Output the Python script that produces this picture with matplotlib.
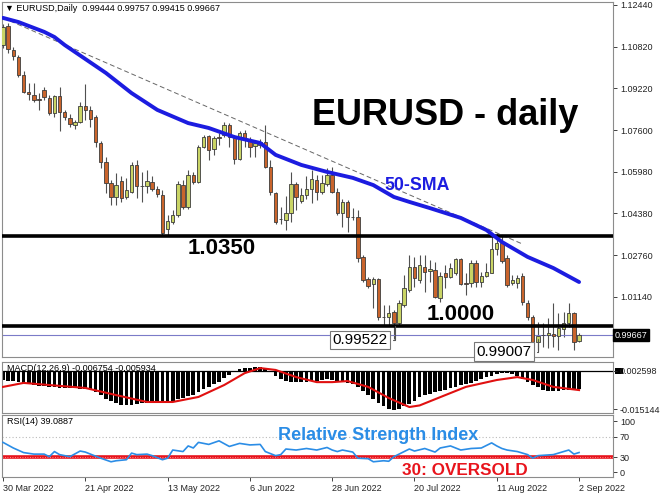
# EURUSD 日线图：K线 + 50-SMA + MACD + RSI
import numpy as np
import matplotlib
matplotlib.use('Agg')
from matplotlib import pyplot as plt
from matplotlib.patches import Rectangle

plt.rcParams['font.family'] = ['Liberation Sans', 'DejaVu Sans']

# 日线 OHLC, 30 Mar 2022 - 2 Sep 2022
opens = [1.1089, 1.1163, 1.1070, 1.1043, 1.0973, 1.0907, 1.0896, 1.0880, 1.0915, 1.0884,
         1.0826, 1.0892, 1.0830, 1.0807, 1.0780, 1.0791, 1.0853, 1.0838, 1.0811, 1.0710,
         1.0637, 1.0555, 1.0501, 1.0563, 1.0501, 1.0520, 1.0625, 1.0544, 1.0544, 1.0559,
         1.0532, 1.0509, 1.0377, 1.0404, 1.0431, 1.0547, 1.0462, 1.0586, 1.0559, 1.0695,
         1.0737, 1.0687, 1.0733, 1.0741, 1.0780, 1.0729, 1.0648, 1.0749, 1.0718, 1.0698,
         1.0702, 1.0714, 1.0617, 1.0517, 1.0416, 1.0412, 1.0439, 1.0551, 1.0486, 1.0509,
         1.0532, 1.0567, 1.0520, 1.0551, 1.0586, 1.0520, 1.0439, 1.0482, 1.0424, 1.0424,
         1.0269, 1.0184, 1.0164, 1.0184, 1.0037, 1.0037, 1.0056, 1.0013, 1.0083, 1.0141,
         1.0230, 1.0180, 1.0230, 1.0215, 1.0219, 1.0110, 1.0207, 1.0191, 1.0207, 1.0261,
         1.0168, 1.0168, 1.0246, 1.0172, 1.0195, 1.0207, 1.0300, 1.0323, 1.0265, 1.0168,
         1.0168, 1.0195, 1.0091, 1.0037, 0.9940, 0.9967, 0.9967, 0.9971, 0.9963, 0.9990,
         1.0013, 1.0052, 0.99444]
highs = [1.1171, 1.1174, 1.1082, 1.1051, 1.0989, 1.0942, 1.0942, 1.0904, 1.0927, 1.0896,
         1.0896, 1.0927, 1.0838, 1.0822, 1.0799, 1.0869, 1.0938, 1.0853, 1.0818, 1.0718,
         1.0656, 1.0567, 1.0594, 1.0582, 1.0575, 1.0637, 1.0644, 1.0598, 1.0606, 1.0582,
         1.0544, 1.0528, 1.0431, 1.0451, 1.0563, 1.0567, 1.0606, 1.0598, 1.0702, 1.0741,
         1.0741, 1.0737, 1.0749, 1.0791, 1.0787, 1.0741, 1.0756, 1.0760, 1.0733, 1.0722,
         1.0725, 1.0780, 1.0644, 1.0520, 1.0462, 1.0505, 1.0598, 1.0559, 1.0536, 1.0582,
         1.0606, 1.0586, 1.0586, 1.0613, 1.0617, 1.0536, 1.0493, 1.0489, 1.0458, 1.0451,
         1.0277, 1.0191, 1.0191, 1.0188, 1.0083, 1.0083, 1.0064, 1.0102, 1.0199, 1.0277,
         1.0269, 1.0277, 1.0277, 1.0257, 1.0249, 1.0211, 1.0238, 1.0246, 1.0265, 1.0265,
         1.0207, 1.0257, 1.0257, 1.0211, 1.0246, 1.0346, 1.0362, 1.0354, 1.0277, 1.0199,
         1.0199, 1.0207, 1.0102, 1.0044, 1.0017, 1.0013, 1.0033, 1.0091, 1.0052, 1.0056,
         1.0091, 1.0056, 0.99757]
lows = [1.1078, 1.1058, 1.1031, 1.0965, 1.0904, 1.0876, 1.0869, 1.0838, 1.0876, 1.0818,
        1.0811, 1.0756, 1.0799, 1.0772, 1.0764, 1.0787, 1.0799, 1.0772, 1.0695, 1.0613,
        1.0517, 1.0470, 1.0470, 1.0482, 1.0493, 1.0517, 1.0497, 1.0482, 1.0517, 1.0524,
        1.0501, 1.0354, 1.0354, 1.0397, 1.0424, 1.0455, 1.0455, 1.0551, 1.0555, 1.0691,
        1.0644, 1.0664, 1.0702, 1.0733, 1.0695, 1.0629, 1.0644, 1.0695, 1.0656, 1.0656,
        1.0691, 1.0613, 1.0509, 1.0397, 1.0397, 1.0373, 1.0404, 1.0451, 1.0478, 1.0493,
        1.0478, 1.0489, 1.0513, 1.0544, 1.0517, 1.0431, 1.0385, 1.0366, 1.0412, 1.0249,
        1.0172, 1.0149, 1.0071, 1.0025, 1.0006, 1.0006, 0.99522, 1.0006, 1.0075, 1.0133,
        1.0153, 1.0168, 1.0133, 1.0172, 1.0110, 1.0095, 1.0149, 1.0188, 1.0199, 1.0160,
        1.0122, 1.0153, 1.0153, 1.0153, 1.0191, 1.0207, 1.0277, 1.0246, 1.0153, 1.0160,
        1.0149, 1.0083, 1.0025, 0.99007, 0.9909, 0.9921, 0.9917, 0.9921, 0.9909, 0.9959,
        0.9998, 0.9909, 0.99415]
closes = [1.1159, 1.1074, 1.1047, 1.0973, 1.0907, 1.0900, 1.0876, 1.0878, 1.0888, 1.0826,
          1.0892, 1.0830, 1.0811, 1.0784, 1.0791, 1.0853, 1.0838, 1.0803, 1.0714, 1.0637,
          1.0555, 1.0501, 1.0547, 1.0497, 1.0528, 1.0625, 1.0544, 1.0542, 1.0563, 1.0532,
          1.0513, 1.0362, 1.0408, 1.0431, 1.0551, 1.0462, 1.0586, 1.0559, 1.0695, 1.0733,
          1.0683, 1.0729, 1.0731, 1.0780, 1.0733, 1.0648, 1.0749, 1.0722, 1.0695, 1.0710,
          1.0714, 1.0617, 1.0520, 1.0404, 1.0414, 1.0439, 1.0551, 1.0501, 1.0509, 1.0532,
          1.0571, 1.0520, 1.0555, 1.0586, 1.0520, 1.0439, 1.0482, 1.0424, 1.0422, 1.0265,
          1.0180, 1.0157, 1.0184, 1.0037, 1.0035, 1.0052, 1.0013, 1.0091, 1.0149, 1.0230,
          1.0188, 1.0238, 1.0211, 1.0222, 1.0114, 1.0195, 1.0191, 1.0226, 1.0261, 1.0164,
          1.0166, 1.0246, 1.0172, 1.0195, 1.0211, 1.0300, 1.0323, 1.0253, 1.0160, 1.0180,
          1.0188, 1.0095, 1.0037, 0.9940, 0.9963, 0.9965, 0.9975, 0.9963, 0.9994, 1.0013,
          1.0052, 0.9940, 0.99667]

# 50日均线（按图读取的点）
sma_x = [0, 3, 8, 10, 12, 16, 20, 25, 30, 36, 40, 45, 50, 53, 58, 63, 68, 72, 76, 79,
         83, 89, 94, 97, 102, 107, 112]
sma_y = [1.1194, 1.1178, 1.1140, 1.1120, 1.1089, 1.1035, 1.0981, 1.0903, 1.0838, 1.0787,
         1.0768, 1.0733, 1.0710, 1.0664, 1.0625, 1.0598, 1.0575, 1.0547, 1.0501, 1.0482,
         1.0458, 1.0420, 1.0373, 1.0327, 1.0269, 1.0226, 1.0172]

# 下降趋势线
trend_x = [0, 101]
trend_y = [1.1194, 1.0319]

# MACD(12,26,9) 柱状图
macd_hist = [-0.0034, -0.0036, -0.0039, -0.0042, -0.0046, -0.0050,
             -0.0053, -0.0056, -0.0058, -0.0060, -0.0062, -0.0063, -0.0065,
             -0.0066, -0.0066, -0.0067, -0.0068, -0.0072, -0.0080, -0.0092,
             -0.0104, -0.0114, -0.0122, -0.0128, -0.0130, -0.0127, -0.0124,
             -0.0121, -0.0120, -0.0118, -0.0117, -0.0120, -0.0118, -0.0112,
             -0.0106, -0.0102, -0.0096, -0.0090, -0.0080, -0.0068, -0.0060,
             -0.0050, -0.0040, -0.0028, -0.0016, -0.0004, 0.0006, 0.0010,
             0.0013, 0.0014, 0.0014, 0.0010, -0.0004, -0.0020, -0.0030,
             -0.0036, -0.0040, -0.0042, -0.0042, -0.0040, -0.0038, -0.0036,
             -0.0034, -0.0032, -0.0033, -0.0036, -0.0040, -0.0044, -0.0048,
             -0.0060, -0.0076, -0.0092, -0.0106, -0.0120, -0.0134, -0.0144,
             -0.0146, -0.0142, -0.0134, -0.0124, -0.0112, -0.0100, -0.0092,
             -0.0085, -0.0080, -0.0074, -0.0070, -0.0064, -0.0060, -0.0054,
             -0.0050, -0.0044, -0.0038, -0.0032, -0.0024, -0.0018, -0.0010,
             -0.0006, -0.0008, -0.0012, -0.0020, -0.0030, -0.0040, -0.0052,
             -0.0062, -0.0070, -0.0075, -0.0076, -0.0074, -0.0072, -0.0070, -0.0068, -0.0068]
signal_x = [0, 4, 9, 16, 22, 28, 33, 38, 43, 47, 50, 53, 57, 61, 64, 67, 71, 75, 79, 81,
            86, 90, 96, 100, 103, 107, 112]
signal_y = [-0.0060, -0.0045, -0.0053, -0.0064, -0.0091, -0.0117, -0.0117, -0.0098, -0.0053,
            -0.0008, 0.0011, 0.0004, -0.0023, -0.0042, -0.0042, -0.0038, -0.0060, -0.0102,
            -0.0136, -0.0130, -0.0091, -0.0060, -0.0034, -0.0023, -0.0034, -0.0060, -0.0072]

# RSI(14)
rsi_x = [0, 2, 4, 6, 8, 9, 10, 11, 13, 15, 16, 19, 21, 22, 24, 25, 26, 28, 29, 31, 32, 33,
         35, 36, 37, 38, 40, 42, 44, 46, 48, 50, 51, 53, 54, 55, 57, 59, 61, 63, 64, 65, 66,
         68, 69, 71, 72, 74, 75, 76, 77, 79, 80, 82, 84, 85, 87, 89, 91, 93, 95, 96, 97, 98,
         100, 101, 102, 103, 104, 107, 108, 109, 110, 111, 112]
rsi_y = [59, 48, 39, 36, 36, 31, 41, 35, 31, 42, 40, 28, 21, 23, 25, 38, 35, 36, 33, 25, 28, 44,
         41, 52, 48, 59, 55, 62, 51, 57, 54, 55, 41, 33, 35, 46, 44, 47, 44, 49, 44, 41, 44,
         40, 28, 27, 21, 23, 22, 31, 36, 46, 42, 47, 40, 48, 52, 44, 47, 48, 58, 52, 47, 44,
         41, 38, 35, 28, 33, 35, 38, 41, 44, 36, 39.09]

date_pos = [0, 16, 32, 48, 64, 80, 96, 112]
date_labels = ['30 Mar 2022', '21 Apr 2022', '13 May 2022', '6 Jun 2022',
               '28 Jun 2022', '20 Jul 2022', '11 Aug 2022', '2 Sep 2022']
price_ticks = [1.1244, 1.1082, 1.0922, 1.0760, 1.0598, 1.0438, 1.0276, 1.0114]

o = np.array(opens)
h = np.array(highs)
l = np.array(lows)
c = np.array(closes)
x = np.arange(len(c))

fig = plt.figure(figsize=(6.6, 4.95), dpi=100)
ax1 = fig.add_axes([0.003, 0.2788, 0.9258, 0.7172])
ax2 = fig.add_axes([0.003, 0.1657, 0.9258, 0.1030])
ax3 = fig.add_axes([0.003, 0.0364, 0.9258, 0.1253])

for ax in (ax1, ax2, ax3):
    ax.set_xlim(-0.2, 118.6)
    for s in ax.spines.values():
        s.set_color('#8c8c8c')
        s.set_linewidth(0.8)
    ax.yaxis.tick_right()
    ax.tick_params(axis='y', labelsize=6.5, length=3, width=0.6, colors='#222222', pad=2)
    ax.tick_params(axis='x', bottom=False, labelbottom=False)

# ---- 主图 ----
ax1.set_ylim(0.98818, 1.12556)
ax1.set_yticks(price_ticks)
ax1.set_yticklabels([f'{p:.5f}' for p in price_ticks])

ax1.plot(trend_x, trend_y, color='#666666', lw=0.7, dashes=(5, 3), zorder=1)
up = c >= o
body_bottom = np.minimum(o, c)
body_h = np.maximum(np.abs(c - o), 0.00008)
colors = np.where(up, '#c9d465', '#c9642c')
ax1.vlines(x, l, h, color='#505050', lw=0.8, zorder=2)
ax1.bar(x, body_h, bottom=body_bottom, width=0.66, color=colors,
        edgecolor='#3c3c3c', linewidth=0.6, zorder=3)
ax1.plot(sma_x, sma_y, color='#1c1ce0', lw=2.8, zorder=4, solid_capstyle='round')

ax1.axhline(1.0350, color='black', lw=2.6, zorder=3)
ax1.axhline(1.0000, color='black', lw=2.6, zorder=3)
ax1.axhline(closes[-1], color='#7b7bc8', lw=0.8, zorder=2)

ax1.text(1.003, closes[-1], f'{closes[-1]:.5f}', transform=ax1.get_yaxis_transform(),
         color='white', fontsize=6.5, va='center', ha='left', clip_on=False,
         bbox=dict(facecolor='black', edgecolor='black', pad=1.0))
ax1.text(0.005, 0.983, '▼ EURUSD,Daily  0.99444 0.99757 0.99415 0.99667',
         transform=ax1.transAxes, fontsize=6.5, va='center', ha='left')

ax1.text(86, 1.0780, 'EURUSD - daily', fontsize=26, fontweight='bold', ha='center', va='baseline')
ax1.text(80.5, 1.0528, '50-SMA', fontsize=12.8, fontweight='bold', color='#1c1ce0',
         ha='center', va='baseline')
ax1.text(42.6, 1.0280, '1.0350', fontsize=16, fontweight='bold', ha='center', va='baseline')
ax1.text(89, 1.0025, '1.0000', fontsize=16, fontweight='bold', ha='center', va='baseline')

box = dict(facecolor='white', edgecolor='#777777', pad=1.5, linewidth=0.8)
ax1.annotate('0.99522', xy=(76.3, closes[76]), xytext=(69.4, 0.99476), fontsize=11,
             ha='center', va='center', bbox=box, annotation_clip=False,
             arrowprops=dict(arrowstyle='-', color='#555555', lw=0.8,
                             connectionstyle='angle,angleA=0,angleB=90,rad=0'))
ax1.annotate('0.99007', xy=(104, closes[104]), xytext=(97.4, 0.99030), fontsize=11,
             ha='center', va='center', bbox=box, annotation_clip=False,
             arrowprops=dict(arrowstyle='-', color='#555555', lw=0.8,
                             connectionstyle='angle,angleA=0,angleB=90,rad=0'))

# ---- MACD ----
ax2.set_ylim(-0.01585, 0.0034)
ax2.text(0.008, 0.88, 'MACD(12,26,9) -0.006754 -0.005934', transform=ax2.transAxes,
         fontsize=6.5, va='center', ha='left', zorder=1)
ax2.bar(x, macd_hist, width=0.72, color='black', zorder=2)
ax2.axhline(0, color='black', lw=0.9, zorder=2)
ax2.plot(signal_x, signal_y, color='#e01010', lw=1.5, zorder=3)
ax2.set_yticks([0, -0.0144])
ax2.set_yticklabels(['0.002598', '-0.015144'])
# 右侧黑色小标记
ax2.add_patch(Rectangle((1.003, -0.0011), 0.013, 0.0022, transform=ax2.get_yaxis_transform(),
                        facecolor='black', edgecolor='none', clip_on=False, zorder=1))

# ---- RSI ----
ax3.set_ylim(-8.8, 112.7)
ax3.axhline(70, color='#bbbbbb', lw=0.8, ls=(0, (1, 2)), zorder=1)
ax3.axhline(30, color='#e8141c', lw=2.6, zorder=2)
ax3.axhline(30, color='#ffb0b0', lw=0.6, ls=(0, (1, 2)), zorder=2.5)
ax3.plot(rsi_x, rsi_y, color='#2b8de6', lw=1.2, zorder=3)
ax3.set_yticks([100, 70, 30, 0])
ax3.text(0.008, 0.887, 'RSI(14) 39.0887', transform=ax3.transAxes, fontsize=6.5,
         va='center', ha='left')
ax3.text(72.9, 63.7, 'Relative Strength Index', fontsize=13, fontweight='bold',
         color='#2b8de6', ha='center', va='baseline')
ax3.text(89.8, -4.9, '30: OVERSOLD', fontsize=12.3, fontweight='bold', color='#e8141c',
         ha='center', va='baseline')

ax3.tick_params(axis='x', bottom=True, labelbottom=True, length=3, width=0.6,
                labelsize=6.5, pad=2, colors='#222222')
ax3.set_xticks(date_pos)
ax3.set_xticklabels(date_labels, ha='left')

plt.savefig('out.png', dpi=100)
